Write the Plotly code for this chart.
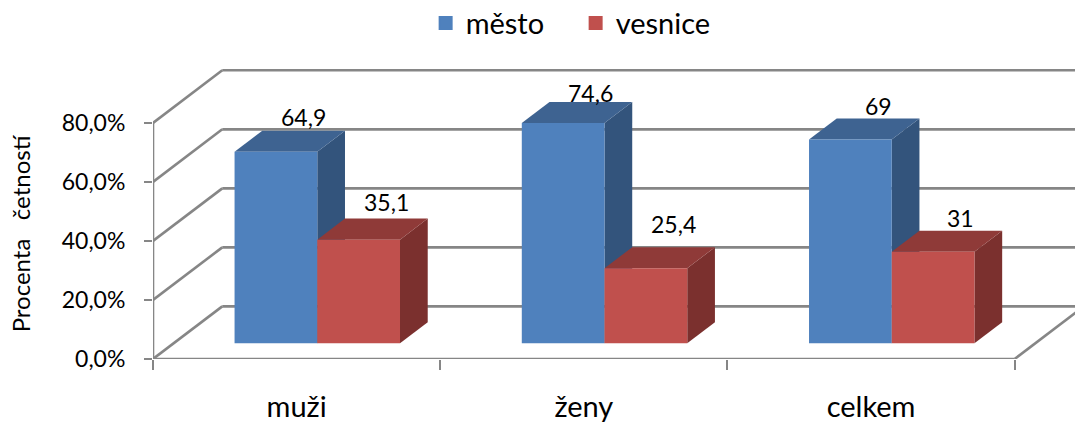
import plotly.graph_objects as go

# Survey results, percent per group
categories = ["muži", "ženy", "celkem"]
series_names = ["město", "vesnice"]
mesto = [64.9, 74.6, 69]
vesnice = [35.1, 25.4, 31]
value_ticks = [0, 20, 40, 60, 80]
value_tick_labels = ["0,0%", "20,0%", "40,0%", "60,0%", "80,0%"]

FRONT = ["#4F81BD", "#C0504D"]
TOP = ["#3E6391", "#8F3A38"]
SIDE = ["#33547C", "#7B302E"]
GRID = "#868686"
FONT = "Lato"

# Oblique projection: a point at depth d (0 front wall, 1 back wall) shifts by these axis units
WALL_DX = 0.2412
WALL_DY = 17.83
BAR_NEAR, BAR_FAR = 0.30, 0.70
BAR_GAP, BAR_W = 0.2116, 0.288
X_MAX, Y_MAX = 3.21, 108.1


def project(x, v, d):
    return x + d * WALL_DX, v + d * WALL_DY


def line(p, q):
    return dict(type="line", xref="x", yref="y", layer="below",
                x0=p[0], y0=p[1], x1=q[0], y1=q[1],
                line=dict(color=GRID, width=2.6))


def polygon(points, color):
    path = "M" + "L".join(f"{x},{y}" for x, y in points) + "Z"
    return dict(type="path", xref="x", yref="y", layer="below", path=path,
                fillcolor=color, line=dict(width=0))


shapes = []
# Walls and floor of the box
for v in value_ticks:
    corner = project(0, v, 1)
    shapes.append(line((0, v), corner))
    shapes.append(line(corner, (X_MAX, corner[1])))
shapes.append(line((0, 0), (0, value_ticks[-1])))
shapes.append(line((0, 0), (3, 0)))
shapes.append(line((3, 0), project(3, 0, 1)))

fig = go.Figure()
label_lift = [[14, 17], [9, 23], [13, 13]]
annotations = [
    # Axis title sits lower than the middle of the plot area
    dict(x=-0.1428, y=0.395, xref="paper", yref="paper", showarrow=False, textangle=-90,
         xanchor="center", yanchor="middle",
         text="Procenta\u00a0\u00a0\u00a0četností",
         font=dict(family=FONT, size=24, color="#000000")),
]

for s, values in enumerate([mesto, vesnice]):
    front_x = []
    for c, v in enumerate(values):
        x0 = c + BAR_GAP + s * BAR_W
        x1 = x0 + BAR_W
        # Side and top faces sit behind the front faces
        shapes.append(polygon([project(x1, 0, BAR_NEAR), project(x1, 0, BAR_FAR),
                               project(x1, v, BAR_FAR), project(x1, v, BAR_NEAR)], SIDE[s]))
        shapes.append(polygon([project(x0, v, BAR_NEAR), project(x1, v, BAR_NEAR),
                               project(x1, v, BAR_FAR), project(x0, v, BAR_FAR)], TOP[s]))
        front_x.append(project((x0 + x1) / 2, 0, BAR_NEAR)[0])
        lx, ly = project((x0 + x1) / 2, v, BAR_FAR)
        annotations.append(dict(x=lx, y=ly, xref="x", yref="y", showarrow=False,
                                yshift=label_lift[c][s],
                                text=f"{v:g}".replace(".", ","),
                                font=dict(family=FONT, size=23, color="#000000")))
    fig.add_trace(go.Bar(x=front_x, y=values, base=BAR_NEAR * WALL_DY, width=BAR_W,
                         marker=dict(color=FRONT[s], line=dict(width=0)),
                         showlegend=False, hoverinfo="skip"))
    # Legend key for the series
    fig.add_trace(go.Scatter(x=[None], y=[None], mode="markers", name=series_names[s],
                             marker=dict(symbol="square", size=16, color=FRONT[s],
                                         line=dict(color=FRONT[s], width=2))))

fig.update_layout(
    width=1075, height=423,
    margin=dict(l=152.7, r=0, t=40, b=64, autoexpand=False),
    paper_bgcolor="#FFFFFF", plot_bgcolor="#FFFFFF",
    barmode="overlay", hovermode=False,
    shapes=shapes, annotations=annotations,
    font=dict(family=FONT, color="#000000"),
    legend=dict(orientation="h", x=0.2957, xref="paper", xanchor="left",
                y=1.053, yanchor="middle", itemsizing="constant",
                font=dict(family=FONT, size=29), itemwidth=30,
                entrywidth=105, entrywidthmode="pixels",
                bgcolor="rgba(0,0,0,0)"),
    xaxis=dict(range=[0, X_MAX], showgrid=False, zeroline=False, showline=False,
               tickmode="array", tickvals=[0.5, 1.5, 2.5], ticktext=categories,
               ticks="", ticklabelstandoff=28,
               tickfont=dict(family=FONT, size=29, color="#000000"),
               minor=dict(tickmode="array", tickvals=[0, 1, 2, 3], ticks="outside",
                          ticklen=10, tickwidth=2, tickcolor=GRID, showgrid=False)),
    yaxis=dict(range=[0, Y_MAX], showgrid=False, zeroline=False, showline=False,
               tickmode="array", tickvals=value_ticks, ticktext=value_tick_labels,
               ticks="outside", ticklen=8, tickwidth=2, tickcolor=GRID,
               ticklabelstandoff=14,
               tickfont=dict(family=FONT, size=23, color="#000000")),
)

fig.write_html("out.html")
